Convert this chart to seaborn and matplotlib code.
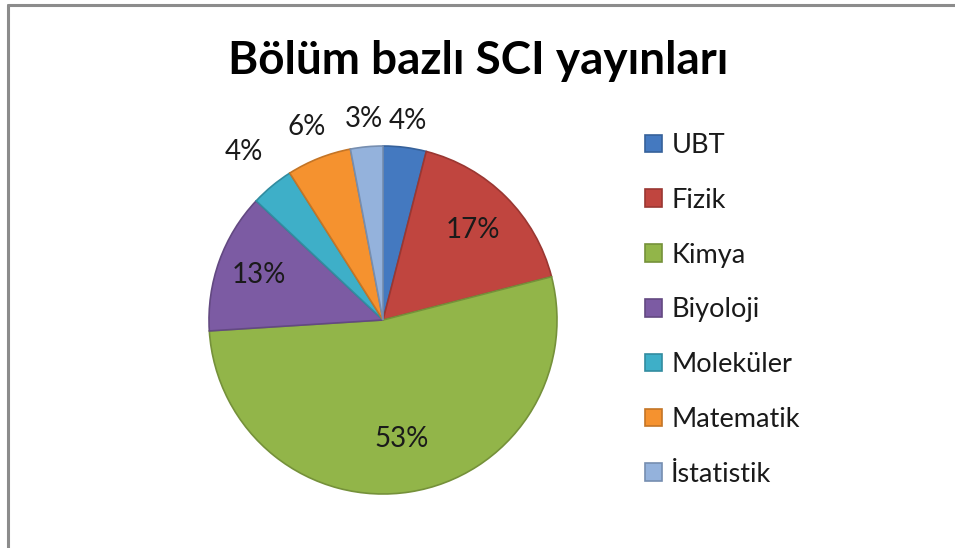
import matplotlib.pyplot as plt
import numpy as np
import seaborn as sns

# Bölüm bazlı SCI yayın payları (%)
bolumler = ['UBT', 'Fizik', 'Kimya', 'Biyoloji', 'Moleküler', 'Matematik', 'İstatistik']
yuzdeler = [4, 17, 53, 13, 4, 6, 3]
renkler = ['#4479c0', '#c0453f', '#92b549', '#7c5ba3', '#3eafc8', '#f5922f', '#94b2dc']
baslik = 'Bölüm bazlı SCI yayınları'

sns.set_theme(style='white')
plt.rcParams['font.family'] = ['Lato', 'DejaVu Sans']

W, H = 955, 548
fig = plt.figure(figsize=(W / 100, H / 100), dpi=100)
fig.patch.set_facecolor('white')

# pie center (383, 320) px from top, radius ~174 px
r_px = 174
lim = 1.4
size = 2 * lim * r_px
cx, cy = 383, H - 320
ax = fig.add_axes([(cx - size / 2) / W, (cy - size / 2) / H, size / W, size / H])

edge = [tuple(np.array(plt.matplotlib.colors.to_rgb(c)) * 0.8) for c in renkler]
wedges, _ = ax.pie(yuzdeler, colors=renkler, startangle=90, counterclock=False,
                   radius=1, wedgeprops=dict(linewidth=1.2))
for w, ec in zip(wedges, edge):
    w.set_edgecolor(ec)

# label distances (inside vs outside)
mesafe = [1.15, 0.73, 0.69, 0.76, 1.25, 1.19, 1.16]
for w, p, d in zip(wedges, yuzdeler, mesafe):
    ang = np.deg2rad((w.theta1 + w.theta2) / 2)
    ax.text(d * np.cos(ang), d * np.sin(ang), f'{p}%', ha='center', va='center',
            fontsize=20, color='#1a1a1a')

ax.set_xlim(-lim, lim)
ax.set_ylim(-lim, lim)
ax.set_aspect('auto')
ax.axis('off')

fig.text(478 / W, 1 - 61 / H, baslik, ha='center', va='center',
         fontsize=33, fontweight='bold', color='black')

leg = fig.legend(wedges, bolumler, loc='upper left',
                 bbox_to_anchor=(645 / W, 1 - 133 / H), frameon=False,
                 fontsize=19.5, handlelength=0.62, handleheight=0.62,
                 handletextpad=0.35, labelspacing=1.1, borderpad=0, borderaxespad=0)
for t in leg.get_texts():
    t.set_color('#1a1a1a')

# chart border (top and left)
fig.add_artist(plt.Line2D([8 / W, 1], [1 - 5 / H, 1 - 5 / H], color='#8c8c8c', lw=2.2,
                          transform=fig.transFigure))
fig.add_artist(plt.Line2D([8 / W, 8 / W], [0, 1 - 5 / H], color='#8c8c8c', lw=2.2,
                          transform=fig.transFigure))

fig.savefig('out.png', dpi=100)
